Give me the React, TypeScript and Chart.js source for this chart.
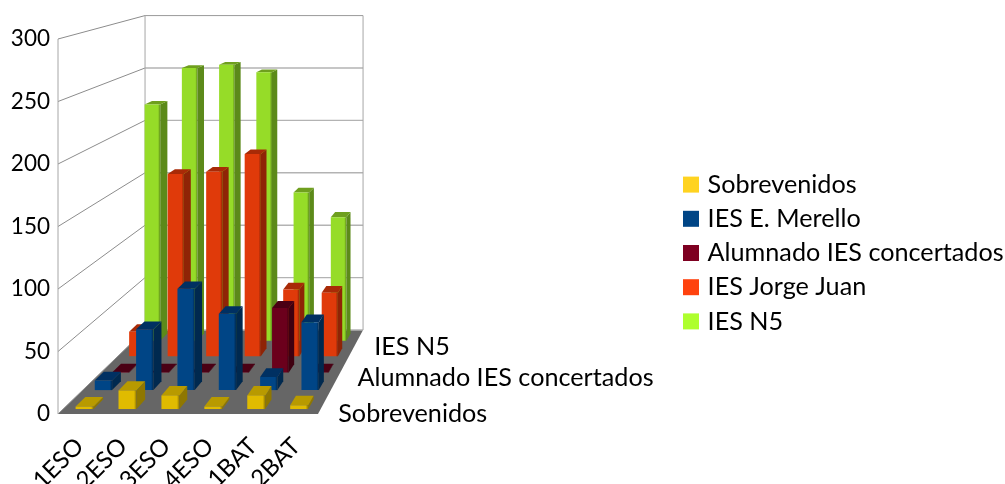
import React, { useEffect, useRef } from "react";
import { Chart, BarController, registerables } from "chart.js";

const categories = ["1ESO", "2ESO", "3ESO", "4ESO", "1BAT", "2BAT"];
const seriesNames = ["Sobrevenidos", "IES E. Merello", "Alumnado IES concertados", "IES Jorge Juan", "IES N5"];
const sobrevenidos = [2, 15, 11, 2, 11, 3];
const merello = [8, 51, 85, 64, 11, 57];
const concertados = [0.5, 0.5, 0.5, 0.5, 56, 0.5];
const jorgeJuan = [22, 164, 166, 182, 60, 57];
const n5 = [220, 254, 257, 250, 138, 115];
const seriesValues = [sobrevenidos, merello, concertados, jorgeJuan, n5];
const legendColors = ["#ffd320", "#004586", "#7e0021", "#ff420e", "#aeff2e"];
const frontColors = ["#e0bb00", "#004586", "#6b001c", "#e03a0a", "#96dc28"];
const sideColors = ["#8f7700", "#00294f", "#3f0010", "#8f2406", "#5c8a1a"];
const topColors = ["#b89a00", "#003062", "#4a0014", "#a82a07", "#6f9f1e"];
const depthLabels = [0, 2, 4];

const FONT = "Lato, sans-serif";
const VP = { x: 597, y: -106 };
const K = 0.1926;
const ROWS = 5;
const ROW_FILL = 0.5;

// Perspective projection of a front-plane pixel to depth t (0 = front, 1 = back)
function project(px: number, py: number, t: number) {
  const s = 1 / (1 + K * t);
  return { x: VP.x + (px - VP.x) * s, y: VP.y + (py - VP.y) * s };
}

function poly(ctx: CanvasRenderingContext2D, pts: { x: number; y: number }[], fill: string | CanvasGradient) {
  ctx.beginPath();
  pts.forEach((p, i) => (i ? ctx.lineTo(p.x, p.y) : ctx.moveTo(p.x, p.y)));
  ctx.closePath();
  ctx.fillStyle = fill;
  ctx.fill();
}

class Bar3DController extends BarController {
  static id = "bar3d";
  static defaults = BarController.defaults;
  static overrides = BarController.overrides;
  draw() {
    const ctx = this.chart.ctx;
    const row = this.index;
    const meta = this.getMeta();
    const t0 = (row + (1 - ROW_FILL) / 2) / ROWS;
    const t1 = (row + (1 + ROW_FILL) / 2) / ROWS;
    ctx.save();
    meta.data.forEach((el: any) => {
      const l = el.x - el.width / 2;
      const r = el.x + el.width / 2;
      const top = el.y;
      const base = el.base;
      const fTL = project(l, top, t0), fTR = project(r, top, t0);
      const fBL = project(l, base, t0), fBR = project(r, base, t0);
      const bTL = project(l, top, t1), bTR = project(r, top, t1), bBR = project(r, base, t1);
      poly(ctx, [fBR, fTR, bTR, bBR], sideColors[row]);
      poly(ctx, [fTL, fTR, bTR, bTL], topColors[row]);
      const g = ctx.createLinearGradient(fTL.x, 0, fTR.x, 0);
      g.addColorStop(0, frontColors[row]);
      g.addColorStop(0.86, frontColors[row]);
      g.addColorStop(1, sideColors[row]);
      poly(ctx, [fTL, fTR, fBR, fBL], g);
    });
    ctx.restore();
  }
}

Chart.register(...registerables, Bar3DController as any);

const walls = {
  id: "walls",
  afterLayout(chart: any) {
    const lg = chart.legend;
    if (lg) {
      const h = lg.height;
      lg.left = 678;
      lg.right = 1005;
      lg.width = 327;
      lg.top = 163;
      lg.bottom = 163 + h;
    }
  },
  beforeDatasetsDraw(chart: any) {
    const { ctx, scales } = chart;
    const xs = scales.x, ys = scales.y;
    const L = xs.left, R = xs.right;
    const y0 = ys.getPixelForValue(0);
    poly(ctx, [project(L, y0, 0), project(R, y0, 0), project(R, y0, 1), project(L, y0, 1)], "#666666");
    ctx.save();
    ys.ticks.forEach((tk: any) => {
      const y = ys.getPixelForValue(tk.value);
      const a = project(L, y, 0), b = project(L, y, 1), c = project(R, y, 1);
      ctx.lineWidth = 1;
      ctx.strokeStyle = "#8c8c8c";
      ctx.beginPath(); ctx.moveTo(a.x, a.y); ctx.lineTo(b.x, b.y); ctx.stroke();
      ctx.lineWidth = tk.value === 300 ? 1 : 1.4;
      ctx.strokeStyle = tk.value === 300 ? "#999999" : "#b3b3b3";
      ctx.beginPath(); ctx.moveTo(b.x, b.y); ctx.lineTo(c.x, c.y); ctx.stroke();
    });
    const yt = ys.getPixelForValue(300);
    ctx.lineWidth = 1;
    ctx.strokeStyle = "#a6a6a6";
    [[L, 0], [L, 1], [R, 1]].forEach(([px, t]) => {
      const a = project(px, y0, t), b = project(px, yt, t);
      ctx.beginPath(); ctx.moveTo(a.x, a.y); ctx.lineTo(b.x, b.y); ctx.stroke();
    });
    ctx.fillStyle = "#000000";
    ctx.font = "25.2px " + FONT;
    ctx.textAlign = "left";
    ctx.textBaseline = "middle";
    depthLabels.forEach((row) => {
      const p = project(R, y0, (row + 0.5) / ROWS);
      ctx.fillText(seriesNames[row], p.x + 15, p.y + 10);
    });
    ctx.restore();
  },
};

export default function App() {
  const ref = useRef<HTMLCanvasElement>(null);
  useEffect(() => {
    document.body.style.margin = "0";
    const chart = new Chart(ref.current!, {
      type: "bar3d" as any,
      data: {
        labels: categories,
        datasets: seriesNames.map((name, i) => ({
          label: name,
          data: seriesValues[i],
          backgroundColor: legendColors[i],
          borderColor: legendColors[i],
          borderWidth: 8,
          grouped: false,
          clip: false,
          barPercentage: 0.42,
          categoryPercentage: 1,
        })),
      },
      options: {
        responsive: false,
        animation: false,
        layout: { padding: { top: 39, right: 687, left: 0, bottom: 0 } },
        scales: {
          x: {
            grid: { display: false, drawTicks: false },
            border: { display: false },
            afterFit: (s: any) => { s.height = 70; },
            ticks: {
              color: "#000",
              font: { family: FONT, size: 24 },
              minRotation: 45,
              maxRotation: 45,
              autoSkip: false,
              padding: 18,
            },
          },
          y: {
            min: 0,
            max: 300,
            grid: { display: false, drawTicks: false },
            border: { display: false },
            afterFit: (s: any) => { s.width = 58; },
            ticks: {
              color: "#000",
              stepSize: 50,
              font: { family: FONT, size: 22.5 },
              padding: 8,
            },
          },
        },
        plugins: {
          tooltip: { enabled: false },
          title: { display: false },
          legend: {
            position: "chartArea",
            align: "start",
            maxWidth: 327,
            labels: {
              color: "#000",
              font: { family: FONT, size: 25.2, lineHeight: 1.0318 },
              boxWidth: 8,
              boxHeight: 8,
              padding: 9,
            },
          },
        },
      } as any,
      plugins: [walls],
    });
    return () => chart.destroy();
  }, []);
  return <canvas ref={ref} width={1005} height={484} style={{ display: "block" }} />;
}
